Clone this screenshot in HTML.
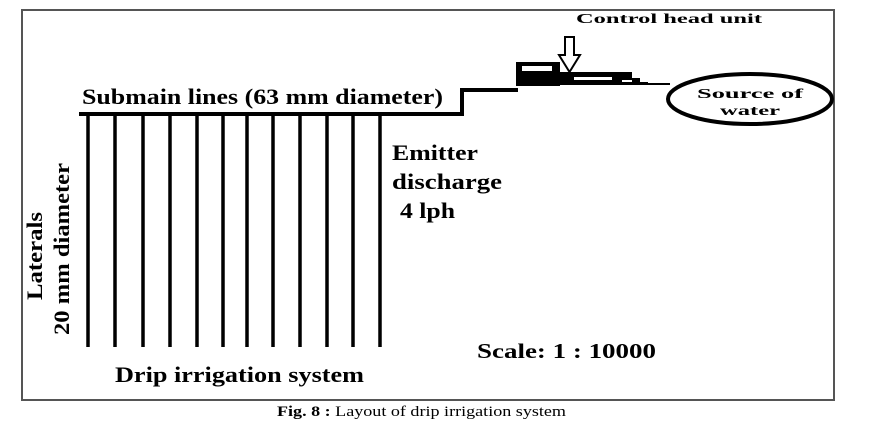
<!DOCTYPE html>
<html><head><style>
body{margin:0;width:876px;height:432px;background:#fff;overflow:hidden}
svg text{font-family:"Liberation Serif",serif;font-weight:bold;fill:#000}
</style></head><body>
<svg width="876" height="432" viewBox="0 0 876 432">
<rect x="22" y="10" width="812" height="390" fill="none" stroke="#555" stroke-width="2"/>
<path d="M79 114 H462 V90 H518" fill="none" stroke="#000" stroke-width="4"/>
<g stroke="#000" stroke-width="3.5">
<line x1="88" y1="114" x2="88" y2="347"/><line x1="115" y1="114" x2="115" y2="347"/>
<line x1="143" y1="114" x2="143" y2="347"/><line x1="170" y1="114" x2="170" y2="347"/>
<line x1="197" y1="114" x2="197" y2="347"/><line x1="223" y1="114" x2="223" y2="347"/>
<line x1="247" y1="114" x2="247" y2="347"/><line x1="273" y1="114" x2="273" y2="347"/>
<line x1="300" y1="114" x2="300" y2="347"/><line x1="327" y1="114" x2="327" y2="347"/>
<line x1="353" y1="114" x2="353" y2="347"/><line x1="380" y1="114" x2="380" y2="347"/>
</g>
<rect x="516" y="62" width="44" height="24" fill="#000"/>
<rect x="522" y="66" width="30" height="5" fill="#fff"/>
<rect x="558" y="72" width="74" height="12" fill="#000"/>
<rect x="574" y="77" width="38" height="3" fill="#fff"/>
<rect x="620" y="78" width="20" height="6" fill="#000"/>
<rect x="622" y="80" width="10" height="2" fill="#fff"/>
<line x1="630" y1="84" x2="670" y2="84" stroke="#000" stroke-width="2"/>
<rect x="558" y="82" width="90" height="3" fill="#000"/>
<path d="M565 37 H574 V55 H580 L569.5 72 L559 55 H565 Z" fill="#fff" stroke="#000" stroke-width="2"/>
<ellipse cx="750" cy="99" rx="82" ry="25" fill="none" stroke="#000" stroke-width="4"/>
<text x="576" y="23" font-size="14" textLength="186" lengthAdjust="spacingAndGlyphs">Control head unit</text>
<text x="697" y="98" font-size="14" textLength="106" lengthAdjust="spacingAndGlyphs">Source of</text>
<text x="720" y="115" font-size="14" textLength="60" lengthAdjust="spacingAndGlyphs">water</text>
<text x="82" y="104" font-size="22" textLength="361" lengthAdjust="spacingAndGlyphs">Submain lines (63 mm diameter)</text>
<text x="392" y="160" font-size="22" textLength="86" lengthAdjust="spacingAndGlyphs">Emitter</text>
<text x="392" y="189" font-size="22" textLength="110" lengthAdjust="spacingAndGlyphs">discharge</text>
<text x="400" y="218" font-size="22" textLength="55" lengthAdjust="spacingAndGlyphs">4 lph</text>
<text x="477" y="358" font-size="21" textLength="179" lengthAdjust="spacingAndGlyphs">Scale: 1 : 10000</text>
<text x="115" y="382" font-size="22" textLength="249" lengthAdjust="spacingAndGlyphs">Drip irrigation system</text>
<text transform="translate(42,256) rotate(-90)" font-size="22" text-anchor="middle" textLength="88" lengthAdjust="spacingAndGlyphs">Laterals</text>
<text transform="translate(69,249) rotate(-90)" font-size="22" text-anchor="middle" textLength="172" lengthAdjust="spacingAndGlyphs">20 mm diameter</text>
<text x="277" y="416" font-size="15" style="font-weight:normal" textLength="289" lengthAdjust="spacingAndGlyphs"><tspan style="font-weight:bold">Fig. 8 :</tspan> Layout of drip irrigation system</text>
</svg>
</body></html>
